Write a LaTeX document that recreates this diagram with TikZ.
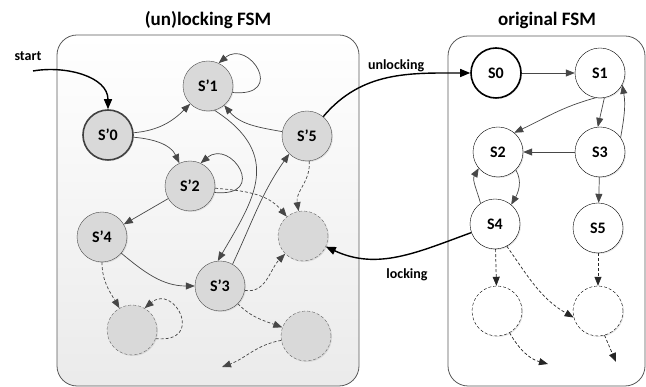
\documentclass[tikz,border=0pt]{standalone}
\usepackage{fontspec}
\setmainfont{Carlito}
\usetikzlibrary{arrows.meta,shadows}
\tikzset{
  lstate/.style={circle,draw=black!70,fill=black!15,minimum size=50pt,inner sep=0pt,
    font=\bfseries\fontsize{16}{16}\selectfont,
    drop shadow={opacity=.2,shadow xshift=1pt,shadow yshift=-1pt}},
  rstate/.style={lstate,draw=black,fill=white},
  ghost/.style={dash pattern=on 3pt off 2pt},
  edge/.style={draw=black!72,line width=.7pt,-{Triangle[length=9pt,width=7pt]},
    preaction={draw=black!18,transform canvas={shift={(.8pt,-1.2pt)}}}},
  ghost edge/.style={ghost},
  main edge/.style={draw=black,line width=1.4pt,-{Triangle[length=10pt,width=8pt]},
    preaction={draw=black!18,transform canvas={shift={(.8pt,-1.2pt)}}}},
  title/.style={font=\bfseries\fontsize{19}{19}\selectfont},
  tag/.style={font=\bfseries\fontsize{14}{14}\selectfont}
}
\begin{document}
\begin{tikzpicture}[x=1pt,y=1pt]
  \useasboundingbox (0,0) rectangle (646,387);
  % the two machines
  \draw[black!65,line width=.8pt,rounded corners=20pt,top color=white,bottom color=black!8]
    (57,1) rectangle (359,352);
  \draw[black!65,line width=.8pt,rounded corners=20pt,fill=white]
    (448,1) rectangle (645,351);
  \node[title] (ltitle) at (208,367) {(un)locking FSM};
  \node[title] (rtitle) at (547,367) {original FSM};
  % (un)locking FSM
  \draw
    (108,252) node[lstate,line width=1.6pt,draw=black!75] (l0){S’0}
    (208,301) node[lstate] (l1){S’1}
    (190,201) node[lstate] (l2){S’2}
    (220,101) node[lstate] (l3){S’3}
    (102,150) node[lstate] (l4){S’4}
    (307,251) node[lstate] (l5){S’5}
    (303,151) node[lstate,ghost,draw=black!60] (la){}
    (132,57) node[lstate,ghost,draw=black!60] (lb){}
    (306,51) node[lstate,ghost,draw=black!60] (lc){};
  % original FSM
  \draw
    (496,314) node[rstate,line width=1.6pt] (r0){S0}
    (600,314) node[rstate] (r1){S1}
    (498,235) node[rstate] (r2){S2}
    (600,235) node[rstate] (r3){S3}
    (495,163) node[rstate] (r4){S4}
    (598,159) node[rstate] (r5){S5}
    (497,76) node[rstate,ghost] (rd){}
    (598,76) node[rstate,ghost] (re){};
  \coordinate (start) at (33,316);
  \coordinate (lcend) at (222,20);
  \coordinate (rdend) at (548,23);
  \coordinate (reend) at (616,25);
  \begin{scope}[edge]
    \draw (l0) to[out=5,in=225] (l1);
    \draw (l0) to[out=-5,in=115] (l2);
    \draw (l1.-15) .. controls +(55,-5) and +(30,25) .. (l1.65);
    \draw (l2.-15) .. controls +(55,-5) and +(30,25) .. (l2.65);
    \draw (l5) to[out=170,in=-50] (l1);
    \draw (l1.-75) .. controls +(70,-45) and +(35,60) .. (l3.95);
    \draw (l3.60) to[out=65,in=235] (l5.225);
    \draw (l2) -- (l4);
    \draw (l4) to[out=-40,in=180] (l3);
    \draw[ghost edge] (l5) to[out=-85,in=100] (la);
    \draw[ghost edge] (l2) to[out=-5,in=130] (la);
    \draw[ghost edge] (l3) to[out=-10,in=225] (la);
    \draw[ghost edge] (l3) to[out=-45,in=160] (lc);
    \draw[ghost edge] (l4) to[out=-90,in=120] (lb);
    \draw[ghost edge] (lb.-20) .. controls +(50,-5) and +(30,25) .. (lb.60);
    \draw[ghost edge] (lc) to[out=190,in=20] (lcend);
  \end{scope}
  \begin{scope}[edge]
    \draw (r0) -- (r1);
    \draw (r1.-100) to[out=195,in=25] (r2.50);
    \draw (r1.-80) -- (r3.95);
    \draw (r3.35) to[out=80,in=-80] (r1.-28);
    \draw (r3) -- (r2);
    \draw (r4.125) to[out=105,in=-120] (r2.220);
    \draw (r2.-45) to[out=-60,in=60] (r4.50);
    \draw (r3) -- (r5);
    \draw[ghost edge,black!85] (r4) -- (rd);
    \draw[ghost edge,black!85] (r4.-62) to[out=-55,in=150] (re.195);
    \draw[ghost edge,black!85] (r5) -- (re);
    \draw[ghost edge,black!85] (rd) to[out=-60,in=165] (rdend);
    \draw[ghost edge,black!85] (re.-75) -- (reend);
  \end{scope}
  \begin{scope}[main edge]
    \draw (start) to[out=10,in=90] (l0);
    \draw (l5) to[out=50,in=180] node[pos=.55,above,tag,black] (ulabel){unlocking} (r0);
    \draw (r4) to[out=200,in=-25] (la);
  \end{scope}
  \node[tag] (slabel) at (28,331) {start};
  \node[tag] (llabel) at (407,112) {locking};
\end{tikzpicture}
\end{document}
